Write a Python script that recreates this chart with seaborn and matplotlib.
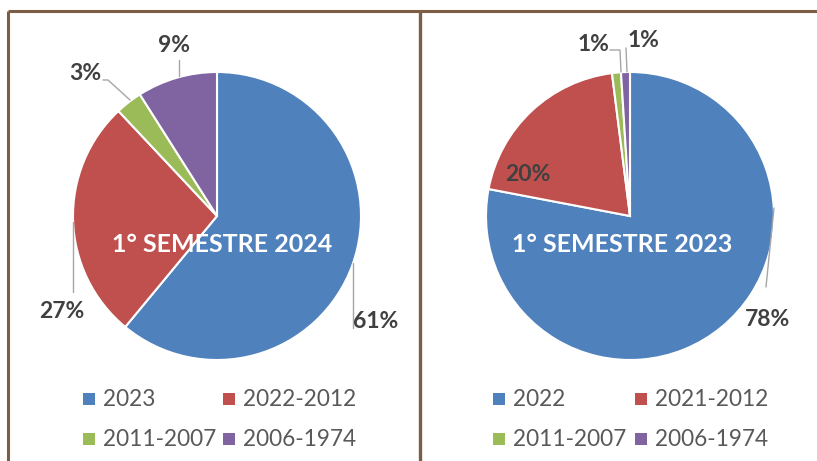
import numpy as np
import matplotlib
matplotlib.use("Agg")
import matplotlib.pyplot as plt
import seaborn as sns

sns.set_theme(style="white")
plt.rcParams["font.family"] = ["Lato", "DejaVu Sans"]

# Data
legend_2024 = ["2023", "2022-2012", "2011-2007", "2006-1974"]
share_2024 = [61, 27, 3, 9]
title_2024 = "1° SEMESTRE 2024"

legend_2023 = ["2022", "2021-2012", "2011-2007", "2006-1974"]
share_2023 = [78, 20, 1, 1]
title_2023 = "1° SEMESTRE 2023"

palette = sns.color_palette(["#4F81BD", "#C0504D", "#9BBB59", "#8064A2"])

W, H = 817, 461
fig = plt.figure(figsize=(W / 100, H / 100), dpi=100)
ax = fig.add_axes([0, 0, 1, 1])

# Work in pixel units, y measured from the top of the figure
def Y(y):
    return H - y

panels = [
    dict(values=share_2024, labels=legend_2024, title=title_2024,
         center=(217, 216), title_xy=(222, 244),
         pct_xy=[(376, 321), (62, 311), (85, 73), (174, 45)],
         leaders=[[(353, 263), (353, 328)],
                  [(73, 222), (73, 292)],
                  [(130, 100), (108, 80), (103, 80)],
                  [(179, 76), (179, 60)]],
         legend_x=(89, 229)),
    dict(values=share_2023, labels=legend_2023, title=title_2023,
         center=(630, 216), title_xy=(622, 244),
         pct_xy=[(768, 319), (528, 174), (594, 44), (644, 40)],
         leaders=[[(774, 208), (766, 287)],
                  None,
                  [(621, 72), (620, 50), (610, 50)],
                  [(627, 72), (626, 48)]],
         legend_x=(499, 641)),
]

radius = 144
for p in panels:
    cx, cy = p["center"]
    ax.pie(p["values"], colors=palette, startangle=90, counterclock=False,
           center=(cx, Y(cy)), radius=radius,
           wedgeprops=dict(edgecolor="white", linewidth=1.5))
    ax.text(p["title_xy"][0], Y(p["title_xy"][1]), p["title"], color="white",
            fontsize=18, fontweight="bold", ha="center", va="center")
    for v, (tx, ty), lead in zip(p["values"], p["pct_xy"], p["leaders"]):
        ax.text(tx, Y(ty), f"{v}%", color="#404040", fontsize=16.5,
                fontweight="bold", ha="center", va="center")
        if lead:
            xs = [q[0] for q in lead]
            ys = [Y(q[1]) for q in lead]
            ax.plot(xs, ys, color="#A6A6A6", lw=1)
    # legend, two columns by two rows
    rows = (399, 439)
    for i, (lab, col) in enumerate(zip(p["labels"], palette)):
        mx = p["legend_x"][i % 2]
        my = rows[i // 2]
        ax.add_patch(plt.Rectangle((mx - 6, Y(my) - 6), 12, 12,
                                   facecolor=col, edgecolor="none"))
        ax.text(mx + 14, Y(my), lab, color="#595959",
                fontsize=16.3, ha="left", va="center")

# Panel frames
frame = "#7B5E45"
ax.plot([8, 8], [Y(H), Y(11)], color=frame, lw=2.2, solid_capstyle="butt")
ax.plot([8, W], [Y(11), Y(11)], color=frame, lw=2.2, solid_capstyle="butt")
ax.plot([420.5, 420.5], [Y(H), Y(11)], color=frame, lw=2.4, solid_capstyle="butt")

ax.set_xlim(0, W)
ax.set_ylim(0, H)
ax.set_aspect("equal")
ax.axis("off")

fig.savefig("out.png", dpi=100, facecolor="white")
